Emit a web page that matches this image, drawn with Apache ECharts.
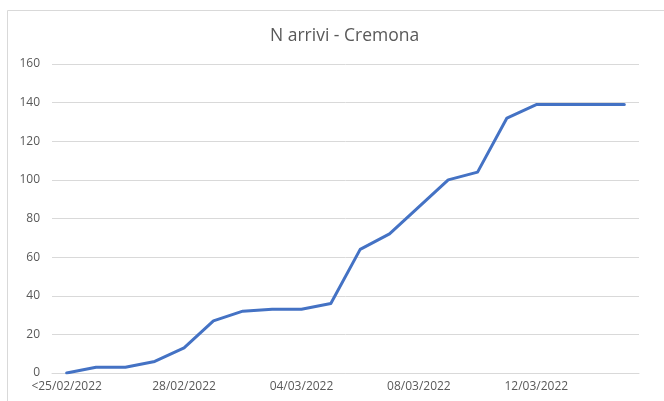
<!DOCTYPE html>
<html>
<head>
<meta charset="utf-8">
<script src="https://cdn.jsdelivr.net/npm/echarts@6/dist/echarts.min.js"></script>
<style>
  html, body { margin: 0; padding: 0; background: #fff; }
  #chart { width: 664px; height: 401px; }
</style>
</head>
<body>
<div id="chart"></div>
<script>
// dati
const dates = [
  '<25/02/2022', '25/02/2022', '26/02/2022', '27/02/2022', '28/02/2022',
  '01/03/2022', '02/03/2022', '03/03/2022', '04/03/2022', '05/03/2022',
  '06/03/2022', '07/03/2022', '08/03/2022', '09/03/2022', '10/03/2022',
  '11/03/2022', '12/03/2022', '13/03/2022', '14/03/2022', '15/03/2022'
]
const arrivi = [0, 3, 3, 6, 13, 27, 32, 33, 33, 36, 64, 72, 86, 100, 104, 132, 139, 139, 139, 139]

const myChart = echarts.init(document.getElementById('chart'))

const option = {
  animation: false,
  title: {
    text: 'N arrivi - Cremona',
    left: 265,
    top: 22,
    textStyle: {
      color: '#595959',
      fontSize: 17.5,
      fontWeight: 'normal',
      fontFamily: 'Open Sans'
    }
  },
  graphic: [
    {
      type: 'rect',
      shape: { x: 7.5, y: 10.5, width: 700, height: 420 },
      style: { fill: 'none', stroke: '#d9d9d9', lineWidth: 1 },
      silent: true
    }
  ],
  grid: {
    left: 52,
    right: 25,
    top: 64,
    bottom: 28
  },
  xAxis: {
    type: 'category',
    data: dates,
    boundaryGap: true,
    axisLine: { lineStyle: { color: '#d9d9d9', width: 1 } },
    axisTick: { show: false },
    axisLabel: {
      interval: 3,
      color: '#595959',
      fontSize: 12,
      fontFamily: 'Open Sans',
      margin: 8
    }
  },
  yAxis: {
    type: 'value',
    min: 0,
    max: 160,
    interval: 20,
    axisLine: { show: false },
    axisTick: { show: false },
    splitLine: { lineStyle: { color: '#d9d9d9', width: 1 } },
    axisLabel: {
      color: '#595959',
      fontSize: 12,
      fontFamily: 'Open Sans',
      margin: 12
    }
  },
  series: [
    {
      name: 'N arrivi',
      type: 'line',
      symbol: 'none',
      lineStyle: { color: '#4472c4', width: 3, cap: 'round', join: 'round' },
      itemStyle: { color: '#4472c4' },
      data: arrivi
    }
  ]
}
myChart.setOption(option)
</script>
</body>
</html>
